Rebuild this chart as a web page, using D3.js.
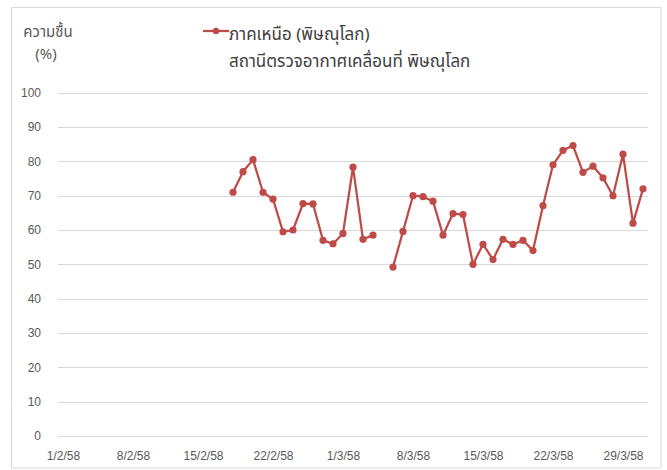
<!DOCTYPE html>
<html>
<head>
<meta charset="utf-8">
<script src="https://cdn.jsdelivr.net/npm/d3@7"></script>
<style>
  html, body { margin: 0; padding: 0; background: #fff; }
  svg { display: block; }
  text { font-family: "Noto Sans Thai", "Leelawadee UI", Tahoma, "Noto Sans", "DejaVu Sans", sans-serif; }
  .ax text { font-family: "Liberation Sans", Arial, sans-serif; }
</style>
</head>
<body>
<svg id="chart" width="667" height="470"></svg>
<script>
// ---- data ----
const axisStart = "1/2/58";
const axisEnd = "31/3/58";
const tickLabels = ["1/2/58","8/2/58","15/2/58","22/2/58","1/3/58","8/3/58","15/3/58","22/3/58","29/3/58"];
const yTicks = [0,10,20,30,40,50,60,70,80,90,100];
const dates = ["18/2/58","19/2/58","20/2/58","21/2/58","22/2/58","23/2/58","24/2/58","25/2/58","26/2/58","27/2/58","28/2/58",
  "1/3/58","2/3/58","3/3/58","4/3/58","5/3/58","6/3/58","7/3/58","8/3/58","9/3/58","10/3/58","11/3/58","12/3/58","13/3/58",
  "14/3/58","15/3/58","16/3/58","17/3/58","18/3/58","19/3/58","20/3/58","21/3/58","22/3/58","23/3/58","24/3/58","25/3/58",
  "26/3/58","27/3/58","28/3/58","29/3/58","30/3/58","31/3/58"];
const humidity = [71,77,80.5,71,69,59.5,60,67.7,67.6,57,56,
  59,78.3,57.3,58.5,null,49.2,59.6,70,69.7,68.4,58.5,64.8,64.5,
  50,55.8,51.4,57.3,55.8,57,54,67.1,79,83.2,84.6,76.8,
  78.6,75.2,70,82.1,62,72];
const seriesName = "ภาคเหนือ (พิษณุโลก)";
const seriesSub = "สถานีตรวจอากาศเคลื่อนที่ พิษณุโลก";
const yTitle1 = "ความชื้น";
const yTitle2 = "(%)";

(function () {
function parseThai(s) {
  const [d, m, y] = s.split("/").map(Number);
  return new Date(2500 + y - 543, m - 1, d, 12);
}
const HALF = 12 * 3600 * 1000;

const svg = d3.select("#chart");
const pLeft = 58, pRight = 648, pTop = 92.7, pBottom = 436;
const color = "#BE4B48";
const grid = "#D9D9D9";
const textCol = "#595959";

svg.append("rect").attr("x", 11.5).attr("y", 7.5).attr("width", 649.5).attr("height", 460.5)
  .attr("fill", "#fff").attr("stroke", grid).attr("stroke-width", 1);

const x = d3.scaleTime()
  .domain([new Date(parseThai(axisStart) - HALF), new Date(+parseThai(axisEnd) + HALF)])
  .range([pLeft, pRight]);
const y = d3.scaleLinear().domain([0, 100]).range([pBottom, pTop]);

svg.append("g").selectAll("line").data(yTicks).join("line")
  .attr("x1", pLeft).attr("x2", pRight)
  .attr("y1", d => Math.round(y(d)) + 0.5).attr("y2", d => Math.round(y(d)) + 0.5)
  .attr("stroke", grid).attr("stroke-width", 1);

const yAxis = d3.axisLeft(y).tickValues(yTicks).tickSize(0).tickPadding(0);
const gy = svg.append("g").attr("class", "ax").attr("transform", `translate(${pLeft - 17},0)`).call(yAxis);
gy.select(".domain").remove();
gy.selectAll("text").attr("fill", textCol).attr("font-size", 12);

const xAxis = d3.axisBottom(x).tickValues(tickLabels.map(parseThai))
  .tickFormat((d, i) => tickLabels[i]).tickSize(0).tickPadding(0);
const gx = svg.append("g").attr("class", "ax").attr("transform", `translate(0,${pBottom + 15})`).call(xAxis);
gx.select(".domain").remove();
gx.selectAll("text").attr("fill", textCol).attr("font-size", 12);

const pts = dates.map((d, i) => ({ t: parseThai(d), v: humidity[i] }));
const line = d3.line().defined(d => d.v != null).x(d => x(d.t)).y(d => y(d.v));
svg.append("path").datum(pts).attr("d", line)
  .attr("fill", "none").attr("stroke", color).attr("stroke-width", 2.25)
  .attr("stroke-linejoin", "round");
svg.append("g").selectAll("circle").data(pts.filter(d => d.v != null)).join("circle")
  .attr("cx", d => x(d.t)).attr("cy", d => y(d.v)).attr("r", 3.6).attr("fill", color);

svg.append("text").attr("x", 48).attr("y", 37).attr("text-anchor", "middle")
  .attr("fill", textCol).attr("font-size", 15).text(yTitle1);
svg.append("text").attr("x", 46).attr("y", 59).attr("text-anchor", "middle")
  .attr("fill", textCol).attr("font-size", 15).text(yTitle2);

svg.append("line").attr("x1", 203).attr("x2", 229).attr("y1", 31).attr("y2", 31)
  .attr("stroke", color).attr("stroke-width", 2.25);
svg.append("circle").attr("cx", 216).attr("cy", 31).attr("r", 3.2).attr("fill", color);
svg.append("text").attr("x", 229).attr("y", 40).attr("fill", "#404040").attr("font-size", 17).text(seriesName);
svg.append("text").attr("x", 229).attr("y", 66.5).attr("fill", "#404040").attr("font-size", 17).text(seriesSub);
})();
</script>
</body>
</html>
